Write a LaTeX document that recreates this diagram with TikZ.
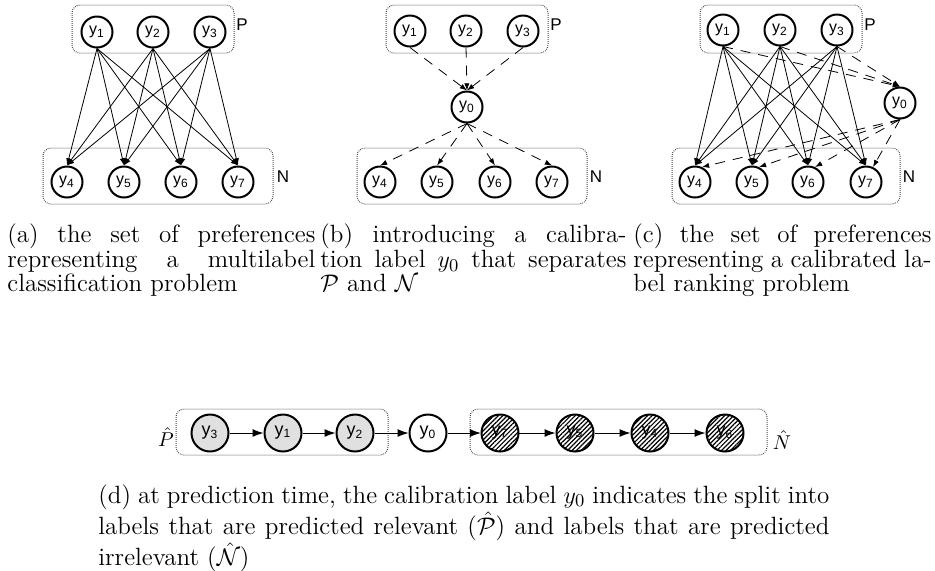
\documentclass[tikz,border=0pt]{standalone}
\usepackage{fontspec}
\newfontfamily\nodefont{Liberation Sans}
\usetikzlibrary{arrows.meta,patterns.meta}
\newcommand\yy[1]{y\textsubscript{#1}}
\tikzset{
  lab/.style={circle,draw,line width=1pt,minimum size=15.5pt,inner sep=0pt,font=\nodefont\fontsize{8}{9}\selectfont},
  cnode/.style={lab,minimum size=18.5pt,font=\nodefont\fontsize{9}{10}\selectfont},
  grp/.style={draw=black!75,dash pattern=on 0.4pt off 0.6pt,line width=0.5pt,rounded corners=4pt,inner sep=0pt},
  grptxt/.style={font=\nodefont\fontsize{8.5}{10}\selectfont,inner sep=0pt},
  arr/.style={-{Latex[length=3.6pt,width=2.6pt]},line width=0.4pt},
  darr/.style={arr,dash pattern=on 5pt off 4pt},
  bigarr/.style={-{Latex[length=5.5pt,width=4pt]},line width=0.5pt},
  captxt/.style={anchor=north west,inner sep=0pt,align=justify,font=\fontsize{12.5}{11.75}\selectfont},
  hatch/.style={pattern={Lines[angle=45,distance=1.6pt,line width=0.6pt]}},
  grey/.style={fill=black!12}
}
\begin{document}
\begin{tikzpicture}[x=0.5pt,y=-0.5pt]
\useasboundingbox (0,0) rectangle (935,570);
% ---------- (a)
\draw[grp] (72,5) rectangle (234,53);
\draw[grp] (43,148) rectangle (273,204);
\node[grptxt] (aP) at (242,25) {P};
\node[grptxt] (aN) at (283,177) {N};
\node[lab] (a1) at (97,32) {\yy1};
\node[lab] (a2) at (153,32) {\yy2};
\node[lab] (a3) at (210,32) {\yy3};
\node[lab] (a4) at (67,182) {\yy4};
\node[lab] (a5) at (124,182) {\yy5};
\node[lab] (a6) at (181,182) {\yy6};
\node[lab] (a7) at (238,182) {\yy7};
\foreach \s in {a1,a2,a3}
  \foreach \t in {a4,a5,a6,a7}
    \draw[arr] (\s.south) -- (\t.north);
% ---------- (b)
\draw[grp] (386,5) rectangle (548,53);
\draw[grp] (357,148) rectangle (587,204);
\node[grptxt] (bP) at (556,25) {P};
\node[grptxt] (bN) at (596,177) {N};
\node[lab] (b1) at (410,31) {\yy1};
\node[lab] (b2) at (466,31) {\yy2};
\node[lab] (b3) at (523,31) {\yy3};
\node[lab] (b0) at (467,107) {\yy0};
\node[lab] (b4) at (380,182) {\yy4};
\node[lab] (b5) at (437,182) {\yy5};
\node[lab] (b6) at (495,182) {\yy6};
\node[lab] (b7) at (552,182) {\yy7};
\foreach \s in {b1,b2,b3}
  \draw[darr] (\s.south) -- (b0.north);
\foreach \t in {b4,b5,b6,b7}
  \draw[darr] (b0.south) -- (\t.north);
% ---------- (c)
\draw[grp] (700,5) rectangle (862,53);
\draw[grp] (672,148) rectangle (900,204);
\node[grptxt] (cP) at (870,25) {P};
\node[grptxt] (cN) at (909,177) {N};
\node[lab] (c1) at (723,30) {\yy1};
\node[lab] (c2) at (780,30) {\yy2};
\node[lab] (c3) at (837,30) {\yy3};
\node[lab] (c0) at (900,103) {\yy0};
\node[lab] (c4) at (695,182) {\yy4};
\node[lab] (c5) at (752,182) {\yy5};
\node[lab] (c6) at (808,182) {\yy6};
\node[lab] (c7) at (866,182) {\yy7};
\foreach \s in {c1,c2,c3}
  \foreach \t in {c4,c5,c6,c7}
    \draw[arr] (\s.south) -- (\t.north);
\foreach \s in {c1,c2,c3}
  \draw[darr] (\s.south) -- (c0.north);
\foreach \t in {c4,c5,c6,c7}
  \draw[darr] (c0.south) -- (\t.65);
% ---------- (d)
\draw[grp] (176,409) rectangle (388,455);
\draw[grp] (470,409) rectangle (767,455);
\node[inner sep=0pt] (dP) at (166,437) {$\hat P$};
\node[inner sep=0pt] (dN) at (782,440) {$\hat N$};
\node[cnode,grey] (d3) at (210,433) {\yy3};
\node[cnode,grey] (d1) at (283,433) {\yy1};
\node[cnode,grey] (d2) at (355,433) {\yy2};
\node[cnode] (d0) at (428,433) {\yy0};
\node[cnode,hatch] (d7) at (500,433) {\yy7};
\node[cnode,hatch] (d5) at (575,433) {\yy5};
\node[cnode,hatch] (d4) at (650,433) {\yy4};
\node[cnode,hatch] (d6) at (725,433) {\yy6};
\foreach \s/\t in {d3/d1,d1/d2,d2/d0,d0/d7,d7/d5,d5/d4,d4/d6}
  \draw[bigarr] (\s) -- (\t);
% ---------- captions
\node[captxt,text width=154pt] (capa) at (7,223)
  {(a) the set of preferences\linebreak representing a multilabel\linebreak classification problem};
\node[captxt,text width=153pt] (capb) at (320,223)
  {(b) introducing a calibra-\linebreak tion label $y_0$ that separates\linebreak $\mathcal{P}$ and $\mathcal{N}$};
\node[captxt,text width=149pt] (capc) at (633,223)
  {(c) the set of preferences\linebreak representing a calibrated la-\linebreak bel ranking problem};
\node[captxt,text width=365.5pt] (capd) at (98,484)
  {(d) at prediction time, the calibration label $y_0$ indicates the split into\linebreak labels that are predicted relevant ($\hat{\mathcal{P}}$) and labels that are predicted\linebreak irrelevant ($\hat{\mathcal{N}}$)};
\end{tikzpicture}
\end{document}
